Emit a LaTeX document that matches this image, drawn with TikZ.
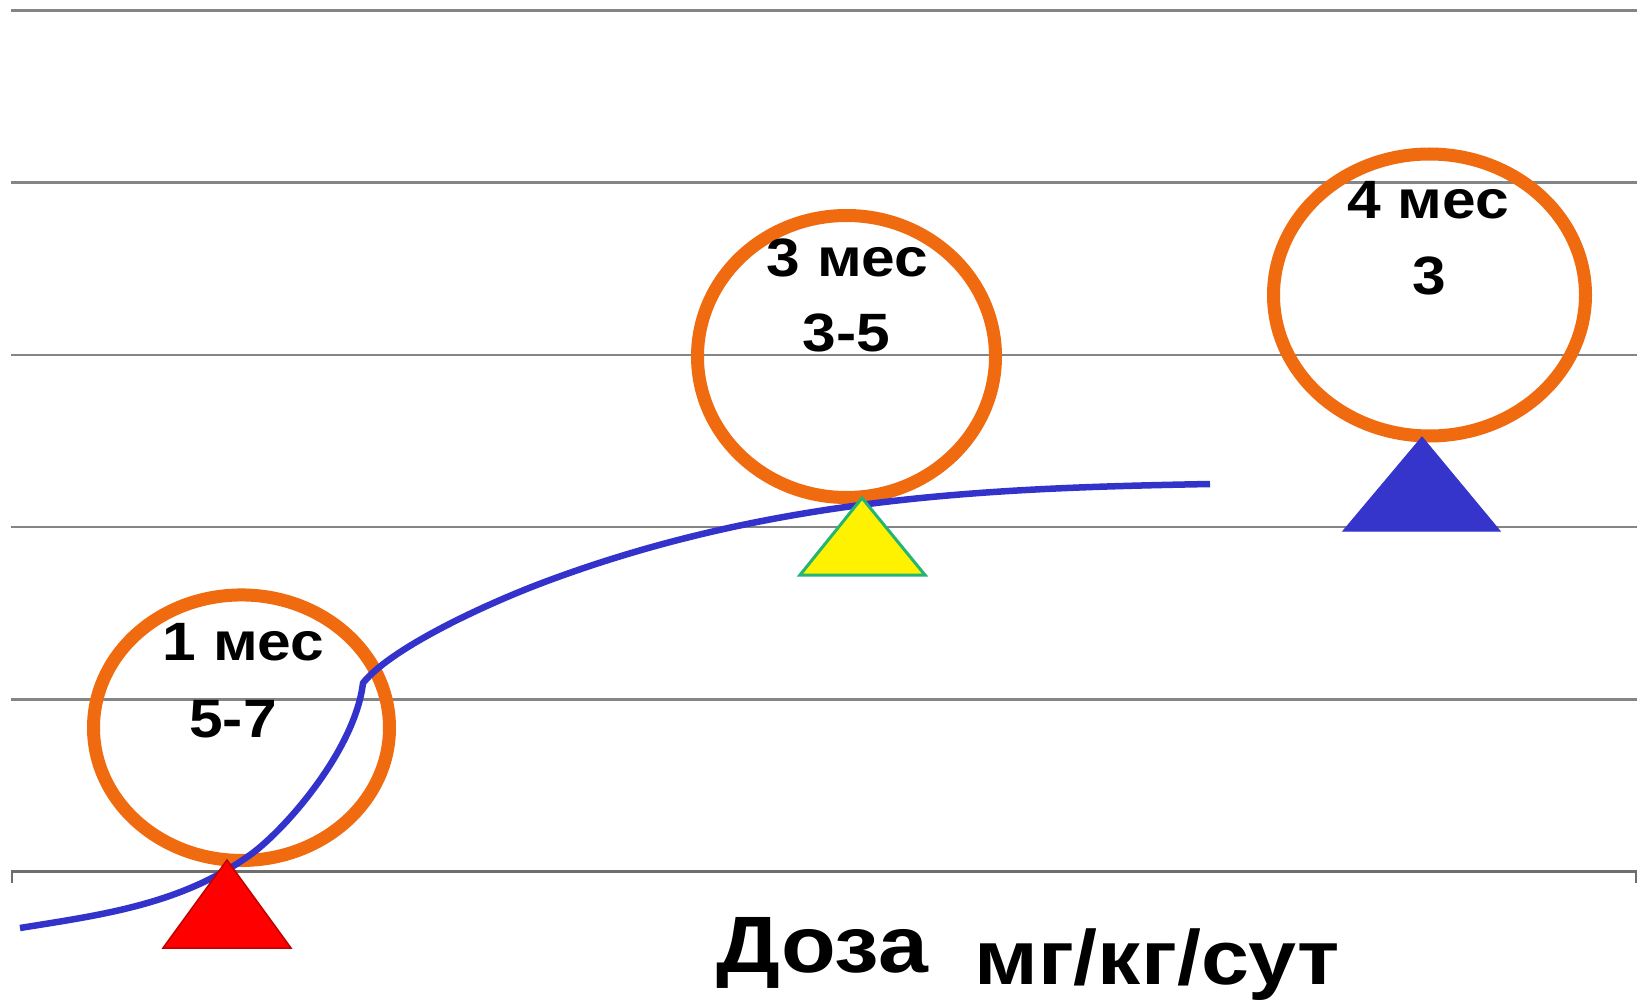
\documentclass[tikz,border=0pt]{standalone}
\usepackage{fontspec}
\setmainfont{Liberation Sans}[FakeStretch=1.12]
\usetikzlibrary{shapes.geometric}
\definecolor{gridgray}{HTML}{858585}
\definecolor{axisgray}{HTML}{6E6E6E}
\definecolor{ringorange}{HTML}{F06A0F}
\definecolor{curveblue}{HTML}{3333CC}
\definecolor{tribblue}{HTML}{3535CC}
\definecolor{trigreen}{HTML}{22B573}
\definecolor{trired}{HTML}{FF0000}
\definecolor{trireddark}{HTML}{C00000}
\tikzset{
  gridline/.style={draw=gridgray, line width=2.4pt},
  axisline/.style={draw=axisgray, line width=2.6pt},
  ring/.style={ellipse, draw=ringorange, line width=13pt, inner sep=0pt},
  doseline/.style={draw=curveblue, line width=6.5pt, line cap=butt, line join=round},
  lbl/.style={inner sep=0pt, anchor=base, font=\fontsize{54}{60}\selectfont\bfseries},
  axlbl/.style={inner sep=0pt, anchor=base west, font=\fontsize{80}{90}\selectfont\bfseries},
}
\begin{document}
\begin{tikzpicture}[x=1pt, y=-1pt]
  \useasboundingbox[fill=white] (0,0) rectangle (1642,1000);

  % horizontal grid
  \foreach \yy in {10.5, 182.7, 355, 527, 699.4} {
    \draw[gridline] (11,\yy) -- (1637,\yy);
  }
  % base axis with end ticks
  \draw[axisline] (12,883) -- (12,871.7) -- (1636,871.7) -- (1636,883);

  % rings
  \node[ring, minimum width=296pt, minimum height=265.5pt] (c1) at (241.5,727.7) {};
  \node[ring, minimum width=298pt, minimum height=282pt] (c2) at (846.5,356.5) {};
  \node[ring, minimum width=312pt, minimum height=282pt] (c3) at (1429.5,295) {};

  % dose curve: steep rise, a bend, then a slow approach to the plateau
  \coordinate (start) at (20,928);
  \coordinate (p1) at (250,855);
  \coordinate (kink) at (363,683);
  \coordinate (p2) at (550,580);
  \coordinate (plateau) at (1210,484);
  \draw[doseline] (start)
    .. controls (100,915) and (180,905) .. (p1)
    .. controls (285,830) and (355,750) .. (kink)
    .. controls (392,647) and (490,602) .. (p2)
    .. controls (780,495) and (1000,488) .. (plateau);

  % markers
  \draw[fill=trired, draw=trireddark, line width=1.5pt, line join=miter]
    (227,860) -- (291,948) -- (163,948) -- cycle;
  \draw[fill=yellow, draw=trigreen, line width=3pt, line join=miter]
    (862,498) -- (925,575) -- (800,575) -- cycle;
  \draw[fill=tribblue, draw=tribblue, line width=1pt, line join=miter]
    (1422,437) -- (1500,531) -- (1343,531) -- cycle;

  % ring labels
  \node[lbl] (t1a) at (243.5,660) {1 мес};
  \node[lbl] (t1b) at (233,737) {5-7};
  \node[lbl] (t2a) at (847.5,277) {3 мес};
  \node[lbl] (t2b) at (846.5,352) {3-5};
  \node[lbl] (t3a) at (1428,219) {4 мес};
  \node[lbl] (t3b) at (1429,295) {3};

  % axis caption
  \node[axlbl] (dose) at (716,972) {Доза};
  \node[axlbl, font=\fontsize{77}{86}\selectfont\bfseries] (unit) at (974,984) {мг/кг/сут};
\end{tikzpicture}
\end{document}
